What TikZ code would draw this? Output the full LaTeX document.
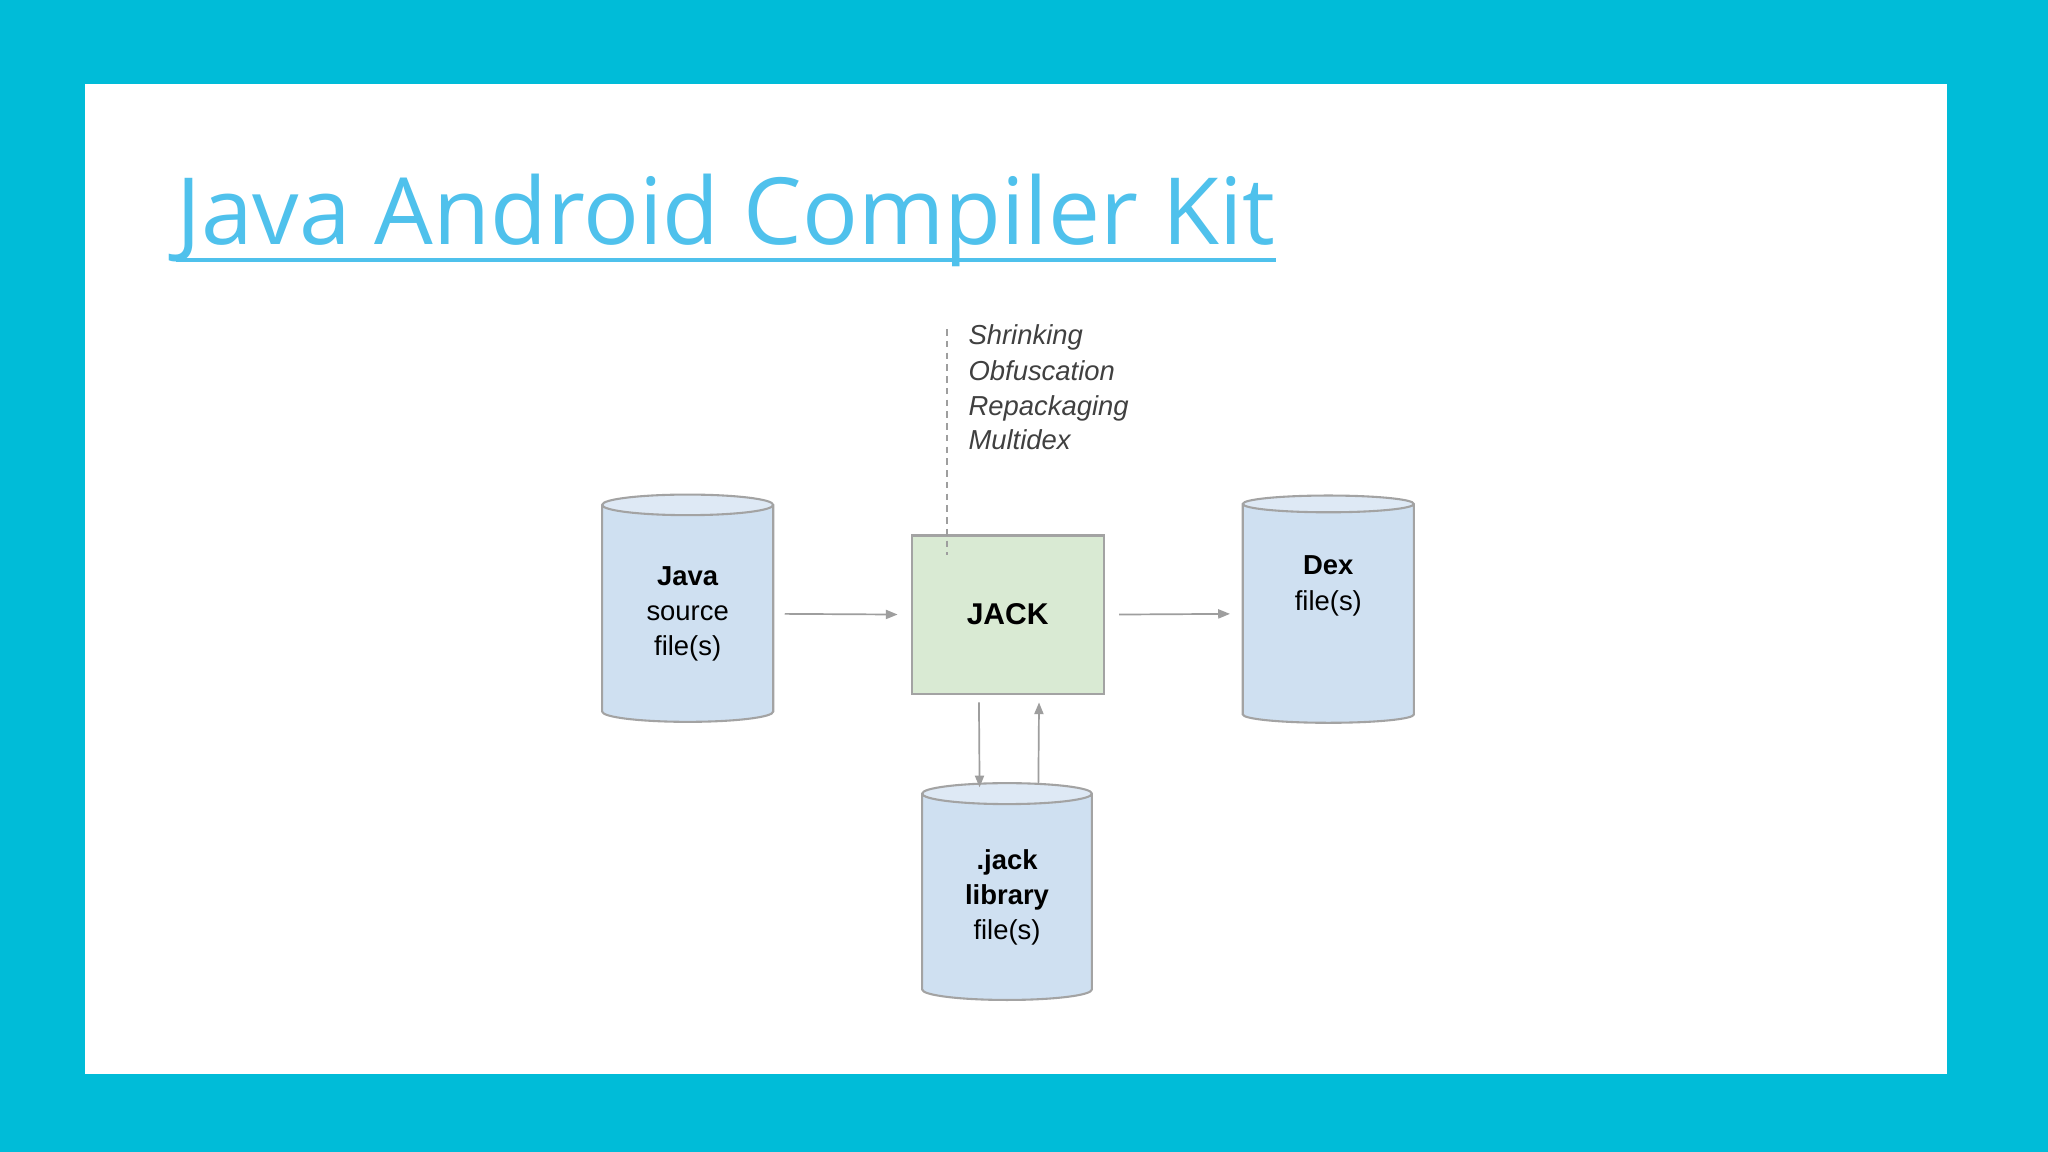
\documentclass[tikz,border=0pt]{standalone}
\usepackage{fontspec}
\setmainfont{Liberation Sans}
\newfontfamily\titlefont{Open Sans}
\usetikzlibrary{shapes.geometric,arrows.meta}
\definecolor{bgc}{HTML}{00BCD8}
\definecolor{tblue}{HTML}{4FC1EC}
\definecolor{cylb}{HTML}{CFE0F1}
\definecolor{cylt}{HTML}{DEE9F5}
\definecolor{strk}{HTML}{A3A3A3}
\definecolor{jackg}{HTML}{D9EAD3}
\definecolor{arr}{HTML}{9E9E9E}
\tikzset{
 db/.style={cylinder, shape border rotate=90, aspect=0.25, draw=strk, line width=1.6pt,
   cylinder uses custom fill, cylinder body fill=cylb, cylinder end fill=cylt,
   minimum width=131pt, minimum height=174pt, inner sep=0pt, align=center,
   font=\fontsize{21}{27}\selectfont, text=black},
 conn/.style={draw=arr, line width=1.3pt, -{Triangle[length=9pt,width=7pt]}},
 note/.style={anchor=base west, font=\fontsize{21}{25}\itshape\selectfont, text=black!75}
}
\begin{document}
\begin{tikzpicture}[x=1pt,y=-1pt]
\fill[bgc] (0,0) rectangle (1568,882);
\fill[white] (65,64) rectangle (1491,822);
\node[anchor=base west, inner sep=0pt, text=tblue, font=\titlefont\fontsize{71}{80}\selectfont] (title) at (135,187) {Java Android Compiler Kit};
\draw[tblue, line width=3pt] (title.south west |- 0,199) -- (title.south east |- 0,199);
\node[db] (java) at (526.5,470) {\textbf{Java}\\source\\file(s)};
\node[db] (dex) at (1017,470) {\textbf{Dex}\\file(s)\\[20pt]};
\node[db, minimum width=130pt, minimum height=166pt] (lib) at (771,687) {\textbf{.jack}\\\textbf{library}\\file(s)};
\node[draw=strk, fill=jackg, line width=1.6pt, minimum width=147pt, minimum height=121pt, font=\fontsize{23}{27}\bfseries\selectfont] (jack) at (771.5,470.5) {JACK};
\coordinate (dtop) at (725,252);
\coordinate (dbot) at (725,425);
\draw[arr, line width=1.2pt, dash pattern=on 5pt off 4pt] (dtop) -- (dbot);
\node[note] (n1) at (738,264) {Shrinking};
\node[note] (n2) at (738,291) {Obfuscation};
\node[note] (n3) at (738,318) {Repackaging};
\node[note] (n4) at (738,344) {Multidex};
\draw[conn] (java.east) ++(8,0) -- ([xshift=-10pt]jack.west);
\draw[conn] ([xshift=11pt]jack.east) -- ([xshift=-9pt]dex.west);
\draw[conn] ([xshift=-22pt,yshift=-6pt]jack.south) -- ([xshift=-21pt,yshift=-4pt]lib.north);
\draw[conn] ([xshift=24pt,yshift=-2pt]lib.north) -- ([xshift=24pt,yshift=-6pt]jack.south);
\end{tikzpicture}
\end{document}
